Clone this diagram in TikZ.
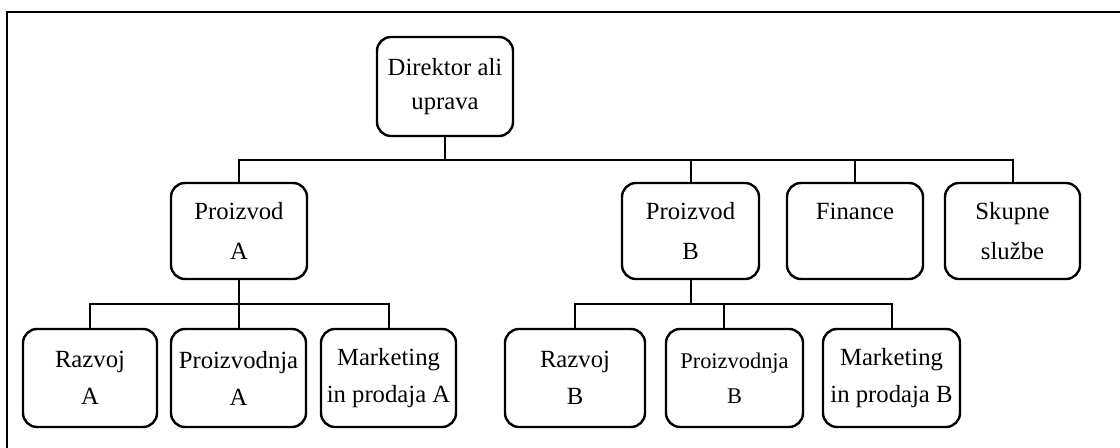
\documentclass[tikz,border=0pt]{standalone}
\usepackage{fontspec}
\setmainfont{Liberation Serif}
\begin{document}
\begin{tikzpicture}[x=0.5pt,y=-0.5pt,
  box/.style={draw,line width=1.2pt,rounded corners=7pt,align=center,inner sep=0pt},
  lone/.style={box,minimum height=49.5pt,font=\fontsize{12.35}{17}\selectfont},
  ltwo/.style={box,minimum height=48pt,font=\fontsize{12.35}{20}\selectfont},
  lthree/.style={box,minimum height=49pt,font=\fontsize{12.35}{18.5}\selectfont},
  conn/.style={line width=1pt},
  frame/.style={line width=1.4pt}]
\useasboundingbox (0,0) rectangle (1120,448);
\draw[frame] (7,448) -- (7,12) -- (1120,12);
\coordinate (b1) at (0,160);
\coordinate (b2) at (0,304);
% level 1
\node[lone,minimum width=68pt] (dir) at (445,86.5) {Direktor ali\\uprava};
% level 2
\node[ltwo,minimum width=68pt] (pa) at (239,231) {Proizvod\\A};
\node[ltwo,minimum width=68.5pt] (pb) at (690.5,231) {Proizvod\\B};
\node[ltwo,minimum width=68pt] (fin) at (855,231) {Finance\\\phantom{A}};
\node[ltwo,minimum width=67.5pt] (sk) at (1012.5,231) {Skupne\\službe};
% level 3
\node[lthree,minimum width=67pt] (ra) at (90,378) {Razvoj\\A};
\node[lthree,minimum width=67.5pt] (pra) at (238.5,378) {Proizvodnja\\A};
\node[lthree,minimum width=67.5pt] (ma) at (388.5,378) {Marketing\\in prodaja A};
\node[lthree,minimum width=70pt] (rb) at (575,378) {Razvoj\\B};
\node[lthree,minimum width=68.5pt,font=\fontsize{11.2}{17.5}\selectfont] (prb) at (734.5,378) {Proizvodnja\\B};
\node[lthree,minimum width=68.5pt] (mb) at (891.5,378) {Marketing\\in prodaja B};
% connectors level 1-2
\draw[conn] (dir.south) -- (dir.south |- b1);
\draw[conn] (pa.north) |- (b1 -| sk.north) -- (sk.north);
\draw[conn] (pb.north) -- (pb.north |- b1);
\draw[conn] (fin.north) -- (fin.north |- b1);
% connectors A
\draw[conn] (pa.south) -- (pa.south |- b2);
\draw[conn] (ra.north) |- (b2 -| ma.north) -- (ma.north);
\draw[conn] (pra.north) -- (pra.north |- b2);
% connectors B
\draw[conn] (pb.south) -- (pb.south |- b2);
\draw[conn] (rb.north) |- (b2 -| mb.north) -- (mb.north);
\draw[conn] ([xshift=-5.5pt]prb.north) -- ([xshift=-5.5pt]prb.north |- b2);
\end{tikzpicture}
\end{document}
